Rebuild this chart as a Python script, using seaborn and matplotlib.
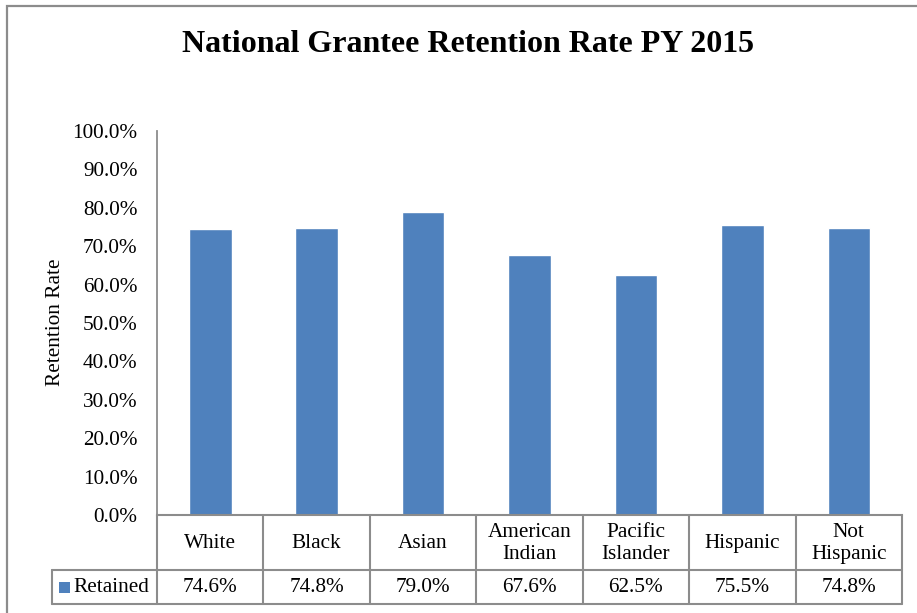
import matplotlib
matplotlib.use("Agg")
import matplotlib.pyplot as plt
from matplotlib.lines import Line2D
from matplotlib.patches import Rectangle
import seaborn as sns
import pandas as pd

categories = ["White", "Black", "Asian", "American\nIndian", "Pacific\nIslander", "Hispanic", "Not\nHispanic"]
retained = [74.6, 74.8, 79.0, 67.6, 62.5, 75.5, 74.8]
series_name = "Retained"
yticks = [0, 10, 20, 30, 40, 50, 60, 70, 80, 90, 100]
title = "National Grantee Retention Rate PY 2015"
ylabel = "Retention Rate"

sns.set_theme(style="white")
plt.rcParams["font.family"] = ["Liberation Serif", "DejaVu Serif"]
plt.rcParams["text.color"] = "black"
plt.rcParams["ytick.color"] = "black"
plt.rcParams["ytick.labelcolor"] = "black"

W, H = 917, 613
fig = plt.figure(figsize=(W / 100, H / 100), dpi=100)
fig.patch.set_facecolor("white")

def fx(x):
    return x / W

def fy(y):
    return 1 - y / H

BLUE = "#4F81BD"
GRAY = "#8c8c8c"
FS = 15.3

# outer chart border
fig.add_artist(Rectangle((fx(7), fy(640)), fx(950 - 7), (640 - 6) / H, transform=fig.transFigure,
                         fill=False, edgecolor=GRAY, linewidth=1.6, clip_on=False))

ax_l, ax_r, ax_t, ax_b = 157, 902, 131, 515
ax = fig.add_axes([fx(ax_l), fy(ax_b), (ax_r - ax_l) / W, (ax_b - ax_t) / H])
df = pd.DataFrame({"cat": categories, "val": retained})
sns.barplot(data=df, x="cat", y="val", color=BLUE, width=0.4, saturation=1, ax=ax)
ax.set_xlim(-0.5, len(categories) - 0.5)
ax.set_ylim(0, 100)
ax.set_yticks(yticks)
ax.set_yticklabels([f"{v:.1f}%" for v in yticks], fontsize=FS, color="black")
ax.tick_params(axis="y", length=0, pad=14)
ax.set_xticks([])
ax.set_xlabel("")
ax.set_ylabel("")
for s in ["top", "right"]:
    ax.spines[s].set_visible(False)
ax.spines["left"].set_color(GRAY)
ax.spines["left"].set_linewidth(1.3)
ax.spines["bottom"].set_color(GRAY)
ax.spines["bottom"].set_linewidth(1.5)

fig.text(fx(468), fy(45), title, ha="center", va="center", fontsize=23, fontweight="bold",
         color="black")
fig.text(fx(55), fy(322), ylabel, ha="center", va="center", rotation=90, fontsize=FS,
         color="black")

# data table
n = len(categories)
cw = (ax_r - ax_l) / n
r1, r2, r3 = 515, 570, 604
leg_l = 52

def hline(y, x0, x1):
    fig.add_artist(Line2D([fx(x0), fx(x1)], [fy(y), fy(y)], transform=fig.transFigure,
                          color=GRAY, linewidth=1.5))

def vline(x, y0, y1):
    fig.add_artist(Line2D([fx(x), fx(x)], [fy(y0), fy(y1)], transform=fig.transFigure,
                          color=GRAY, linewidth=1.5))

hline(r2, leg_l, ax_r)
hline(r3, leg_l, ax_r)
vline(leg_l, r2, r3)
for k in range(n + 1):
    vline(ax_l + cw * k, r1, r3)

for i, (c, v) in enumerate(zip(categories, retained)):
    cx = ax_l + cw * (i + 0.5)
    fig.text(fx(cx), fy((r1 + r2) / 2 + 1), c, ha="center", va="center", fontsize=FS,
             linespacing=1.15, color="black")
    fig.text(fx(cx), fy((r2 + r3) / 2 + 1), f"{v:.1f}%", ha="center", va="center",
             fontsize=FS, color="black")

fig.add_artist(Rectangle((fx(59), fy(593)), 11 / W, 11 / H, transform=fig.transFigure,
                         facecolor=BLUE, edgecolor="none"))
fig.text(fx(73), fy(587), series_name, ha="left", va="center", fontsize=FS, color="black")

fig.savefig("out.png", dpi=100)
